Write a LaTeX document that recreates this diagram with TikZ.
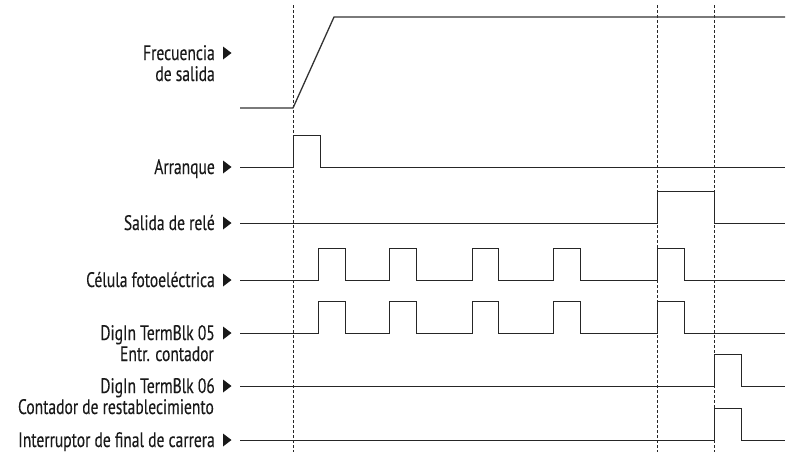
\documentclass[tikz,border=0pt]{standalone}
\usepackage{fontspec}
\setmainfont{PT Sans}[FakeStretch=0.74,FakeBold=0.2]
\begin{document}
\begin{tikzpicture}[x=1pt,y=-1pt,
  sig/.style={line width=0.9pt, draw=black!85},
  freqsig/.style={line width=1.3pt, draw=black!80},
  gridline/.style={dash pattern=on 3pt off 2pt, line width=0.6pt, draw=black!85},
  lbl/.style={anchor=base east, inner sep=0pt, font=\fontsize{21}{22}\selectfont, text=black!90},
  tri/.style={fill=black!90}]
\useasboundingbox (0,0) rectangle (794,455);
% dashed time markers
\foreach \x/\n in {293/ta,657/tb,714/tc}{
  \coordinate (\n top) at (\x,5);
  \coordinate (\n bot) at (\x,452);
  \draw[gridline] (\n top) -- (\n bot);
}
% labels
\node[lbl] (lf1) at (215,60) {Frecuencia};
\node[lbl] (lf2) at (215,81) {de salida};
\node[lbl] (la) at (215,174) {Arranque};
\node[lbl] (lr) at (215,230) {Salida de relé};
\node[lbl] (lc) at (215,287) {Célula fotoeléctrica};
\node[lbl] (ld5) at (215,340) {DigIn TermBlk 05};
\node[lbl] (ld5b) at (214,361) {Entr. contador};
\node[lbl] (ld6) at (215,393) {DigIn TermBlk 06};
\node[lbl] (ld6b) at (214,414) {Contador de restablecimiento};
\node[lbl] (li) at (215,447) {Interruptor de final de carrera};
% triangles
\foreach \y in {53,167,223,280,333,386,440}{
  \fill[tri] (223,\y-6.5) -- (231.5,\y) -- (223,\y+6.5) -- cycle;
}
% output frequency
\draw[freqsig] (240,108) -- (293,108) -- (334,17) -- (785,17);
% start
\draw[sig] (240,167) -- (293,167) -- (293,135) -- (320,135) -- (320,167) -- (785,167);
% relay output
\draw[sig] (240,223) -- (657,223) -- (657,191) -- (714,191) -- (714,223) -- (785,223);
% photo eye and DigIn 05
\foreach \b/\h in {280/248,333/301}{
  \draw[sig] (240,\b) -- (318,\b) -- (318,\h) -- (345,\h) -- (345,\b)
    -- (389,\b) -- (389,\h) -- (416,\h) -- (416,\b)
    -- (472,\b) -- (472,\h) -- (498,\h) -- (498,\b)
    -- (553,\b) -- (553,\h) -- (580,\h) -- (580,\b)
    -- (657,\b) -- (657,\h) -- (684,\h) -- (684,\b) -- (785,\b);
}
% DigIn 06 and limit switch
\foreach \b/\h in {386/354,440/408}{
  \draw[sig] (240,\b) -- (714,\b) -- (714,\h) -- (741,\h) -- (741,\b) -- (785,\b);
}
\end{tikzpicture}
\end{document}
